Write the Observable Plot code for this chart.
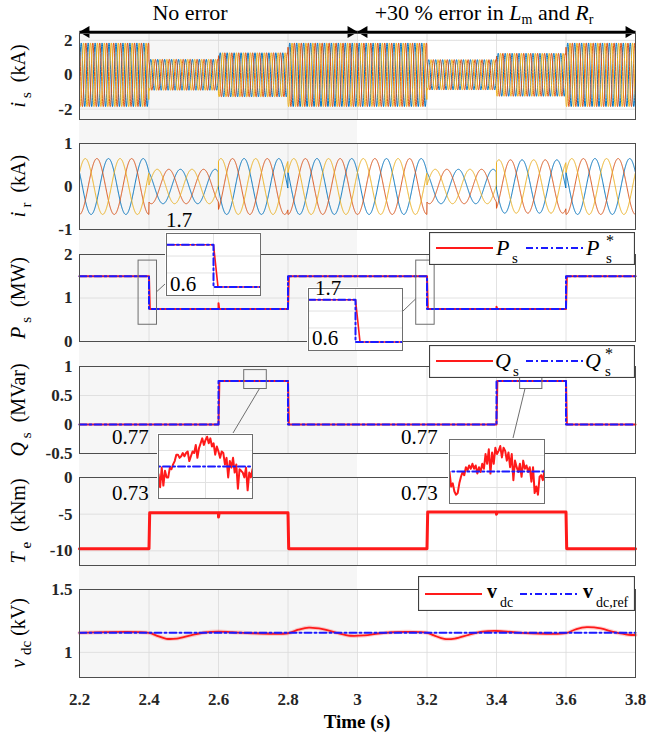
<!DOCTYPE html>
<html>
<head>
<meta charset="utf-8">
<script src="https://cdn.jsdelivr.net/npm/d3@7"></script>
<script src="https://cdn.jsdelivr.net/npm/@observablehq/plot@0.6"></script>
<style>
  body { margin: 0; background: #fff; font-family: "Liberation Serif", "Times New Roman", Times, serif; }
  #fig { position: relative; width: 647px; height: 739px; overflow: hidden;
         font-family: "Liberation Serif", "Times New Roman", Times, serif; color: #000; }
  #fig > * { position: absolute; }
  #fig svg text { font-family: "Liberation Serif", "Times New Roman", Times, serif; }
  .band { background: #f6f6f6; }
  .ylab { transform: translate(-50%, -50%) rotate(-90deg); white-space: nowrap; font-size: 20px;
          font-family: "Liberation Serif", "Times New Roman", Times, serif; }
  .ylab sub { font-size: 15px; vertical-align: -6px; margin-left: 4px; }
  .htext { transform: translate(-50%, 0); white-space: nowrap; font-size: 22px;
           font-family: "Liberation Serif", "Times New Roman", Times, serif; }
  .htext sub { font-size: 14px; vertical-align: -4px; }
  .xlab { transform: translate(-50%, -50%); font-weight: bold; font-size: 19px; white-space: nowrap;
          font-family: "Liberation Serif", "Times New Roman", Times, serif; }
  .num { font-size: 21px; white-space: nowrap; font-family: "Liberation Serif", "Times New Roman", Times, serif; }
</style>
</head>
<body>
<div id="fig"></div>
<script>
// ---------- data ----------
const timeDomain = [2.2, 3.8];
const timeTicks = [2.2, 2.4, 2.6, 2.8, 3, 3.2, 3.4, 3.6, 3.8];
const noErrorSpan = [2.2, 3.0];
const errorSpan = [3.0, 3.8];

// operating segments (s)
const segStart = [2.2, 2.4, 2.6, 2.8, 3.2, 3.4, 3.6];
const segEnd   = [2.4, 2.6, 2.8, 3.2, 3.4, 3.6, 3.8];

// stator active / reactive power references (MW, MVar)
const psLevel = [1.5, 0.75, 0.75, 1.5, 0.75, 0.75, 1.5];
const qsLevel = [0, 0, 0.75, 0, 0, 0.75, 0];
// electromagnetic torque (kNm)
const teLevel = [-9.7, -4.8, -4.8, -9.7, -4.7, -4.7, -9.7];
// current envelopes (kA) and phase shifts (deg) per segment
const isAmp = [1.85, 0.9, 1.28, 1.85, 0.88, 1.25, 1.85];
const irAmp = [0.65, 0.4, 0.65, 0.65, 0.4, 0.62, 0.65];
const irShift = [0, -25, 35, 0, -25, 35, 0];
const statorHz = 50, rotorHz = 10, irPhase0 = 150, isPhase0 = 0;

// short transients on the measured signals
const psSpikes = [{t: 2.6, v: 0.88}, {t: 3.4, v: 0.8}];
const teSpikes = [{t: 2.6, v: -5.4}, {t: 3.4, v: -5.0}];

// dc-link voltage (kV)
const vdcRef = 1.155;
const vdcT = [2.2, 2.4, 2.42, 2.45, 2.48, 2.52, 2.56, 2.6, 2.64, 2.7, 2.8, 2.83, 2.86, 2.9, 2.94, 2.98, 3.02, 3.06, 3.1, 3.15, 3.2, 3.22, 3.25, 3.28, 3.32, 3.36, 3.4, 3.45, 3.5, 3.6, 3.63, 3.66, 3.7, 3.74, 3.78, 3.8];
const vdcV = [1.155, 1.155, 1.135, 1.108, 1.11, 1.135, 1.158, 1.165, 1.16, 1.152, 1.152, 1.18, 1.197, 1.185, 1.155, 1.132, 1.135, 1.15, 1.16, 1.163, 1.156, 1.135, 1.107, 1.11, 1.14, 1.165, 1.17, 1.16, 1.152, 1.153, 1.185, 1.2, 1.19, 1.16, 1.14, 1.138];

// zoom windows
const psZoomY = [0.6, 1.7];            // inset range (MW)
const psZoomX = [[2.374, 2.426], [3.174, 3.226]];
const psBoxX = [[2.37, 2.423], [3.169, 3.222]];
const psBoxY = [0.385, 1.86];
const qsZoomY = [0.73, 0.77];          // inset range (MVar)
const qsZoomX = [[2.674, 2.739], [3.468, 3.532]];
const qsBoxY = [0.612, 0.938];
// sampled Q_s inside the two zoom windows
const qsZoom1 = [.7452, .7371, .7493, .7381, .7473, .7432, .7432, .7493, .7483, .7513, .7534, .7574, .7574, .7554, .7564, .7584, .7564, .7584, .7594, .7534, .7564, .7594, .7584, .7635, .7554, .7615, .7645, .7676, .7635, .7665, .7686, .7645, .7676, .7625, .7645, .7574, .7625, .7594, .7554, .7594, .7584, .7513, .7554, .7432, .7534, .7493, .7554, .7462, .7513, .7361, .7483, .7473, .7462, .7432, .7493, .7351, .7462, .7432, .7483];
const qsZoom2 = [.7497, .7406, .7426, .7375, .7355, .7365, .7426, .7467, .7497, .7477, .7527, .7507, .7538, .7517, .7548, .7517, .7538, .7487, .7527, .7497, .7548, .7517, .7609, .7548, .7639, .7487, .7619, .7548, .7649, .7609, .7629, .7659, .7588, .7649, .7629, .7568, .7619, .7527, .7609, .7446, .7568, .7527, .7497, .7548, .7467, .7568, .7517, .7538, .7497, .7527, .7436, .7527, .7365, .7406, .7355, .7467, .7477, .7446, .7507];

const phaseColors = ["#0072BD", "#D95319", "#EDB120"];
const red = "#ff1a1a", blue = "#1a1aff", dashDot = "7,3,2,3";
const serif = "'Liberation Serif', 'Times New Roman', Times, serif";

// ---------- layout ----------
const W = 647, L = 79, R = 635;
const panels = {
  is: {top: 33, h: 86, yDomain: [-2.6, 2.4], yTicks: [-2, 0, 2]},
  ir: {top: 143, h: 86, yDomain: [-1, 1], yTicks: [-1, 0, 1]},
  ps: {top: 254, h: 87, yDomain: [0, 2], yTicks: [0, 1, 2]},
  qs: {top: 366, h: 87, yDomain: [-0.5, 1], yTicks: [-0.5, 0, 0.5, 1]},
  te: {top: 477, h: 88, yDomain: [-12, 0], yTicks: [-10, -5, 0]},
  vdc: {top: 589, h: 88, yDomain: [0.8, 1.5], yTicks: [1, 1.5]}
};
const fig = document.getElementById("fig");
const xPix = t => L + (t - timeDomain[0]) / (timeDomain[1] - timeDomain[0]) * (R - L);
const yPix = (p, v) => p.top + (p.yDomain[1] - v) / (p.yDomain[1] - p.yDomain[0]) * p.h;

// ---------- series ----------
function segIndex(t) { let k = segStart.length - 1; while (k > 0 && t < segStart[k] - 1e-9) k--; return k; }
function threePhase(hz, amp, shift, phase0) {
  const rows = [], dt = 0.0005, n = Math.round((timeDomain[1] - timeDomain[0]) / dt);
  for (let i = 0; i <= n; i++) {
    const t = timeDomain[0] + i * dt, k = segIndex(t);
    for (let p = 0; p < 3; p++) {
      const th = (phase0 + shift[k] + p * 120) * Math.PI / 180 + 2 * Math.PI * hz * (t - timeDomain[0]);
      rows.push({t, v: amp[k] * Math.sin(th), p});
    }
  }
  return rows;
}
function stepSeries(levels, ramp, spikes = []) {
  const pts = [];
  levels.forEach((v, k) => {
    pts.push({t: segStart[k] + (k && levels[k - 1] !== v ? ramp : 0), v});
    pts.push({t: segEnd[k], v});
  });
  spikes.forEach(s => {
    const base = levels[segIndex(s.t)];
    pts.push({t: s.t - 0.001, v: base}, {t: s.t, v: s.v}, {t: s.t + 0.002, v: base});
  });
  return pts.sort((a, b) => a.t - b.t);
}
const isRows = threePhase(statorHz, isAmp, isAmp.map(() => 0), isPhase0);
const irRows = threePhase(rotorHz, irAmp, irShift, irPhase0);
const psMeas = stepSeries(psLevel, 0.0025, psSpikes);
const psRef = stepSeries(psLevel, 0);
const qsMeas = stepSeries(qsLevel, 0.0025);
const qsRef = stepSeries(qsLevel, 0);
const teMeas = stepSeries(teLevel, 0.002, teSpikes);
const vdcRows = vdcT.map((t, i) => ({t, v: vdcV[i]}));
const vdcRefRows = timeDomain.map(t => ({t, v: vdcRef}));
const zoomRows = (vals, [a, b]) => vals.map((v, i) => ({t: a + i * (b - a) / (vals.length - 1), v}));

const phaseLines = rows => [0, 1, 2].map(p =>
  Plot.line(rows.filter(d => d.p === p), {x: "t", y: "v", stroke: phaseColors[p], strokeWidth: 1}));

// ---------- drawing helpers ----------
const band = document.createElement("div");
band.className = "band";
band.style.left = xPix(noErrorSpan[0]) + "px";
band.style.width = (xPix(noErrorSpan[1]) - xPix(noErrorSpan[0])) + "px";
band.style.top = panels.is.top + "px";
band.style.height = (panels.vdc.top + panels.vdc.h - panels.is.top) + "px";
fig.append(band);

function addPanel(p, marks, bottom = false) {
  const mt = 2, mb = bottom ? 62 : 2;
  const svg = Plot.plot({
    width: W, height: p.h + mt + mb,
    marginLeft: L, marginRight: W - R, marginTop: mt, marginBottom: mb,
    style: {background: "transparent", fontFamily: serif, fontSize: "17px",
            fontWeight: "bold", color: "#262626", overflow: "visible"},
    x: bottom
      ? {domain: timeDomain, label: null, ticks: timeTicks, tickSize: 0, tickPadding: 15, tickFormat: d => String(d)}
      : {domain: timeDomain, label: null, axis: null},
    y: {domain: p.yDomain, label: null, ticks: p.yTicks, tickSize: 0, tickPadding: 7, tickFormat: d => String(d)},
    marks: [
      Plot.ruleX(timeTicks, {stroke: "#dadada", strokeWidth: 0.8}),
      Plot.ruleY(p.yTicks, {stroke: "#dadada", strokeWidth: 0.8}),
      ...marks,
      Plot.frame({stroke: "#4d4d4d", strokeWidth: 1})
    ]
  });
  svg.style.left = "0px";
  svg.style.top = (p.top - mt) + "px";
  fig.append(svg);
  return svg;
}

function addInset(box, xDomain, yDomain, yGrid, marks) {
  const svg = Plot.plot({
    width: box.w, height: box.h, marginLeft: 1, marginRight: 1, marginTop: 1, marginBottom: 1,
    style: {background: "#fff", overflow: "hidden"},
    x: {domain: xDomain, axis: null, label: null},
    y: {domain: yDomain, axis: null, label: null},
    marks: [
      Plot.ruleX([(xDomain[0] + xDomain[1]) / 2], {stroke: "#e2e2e2"}),
      Plot.ruleY(yGrid, {stroke: "#e2e2e2"}),
      ...marks,
      Plot.frame({stroke: "#6e6e6e"})
    ]
  });
  svg.style.left = box.x + "px";
  svg.style.top = box.y + "px";
  fig.append(svg);
}

function addHTML(cls, html, x, y) {
  const d = document.createElement("div");
  d.className = cls; d.innerHTML = html;
  d.style.left = x + "px"; d.style.top = y + "px";
  fig.append(d);
  return d;
}

// ---------- header ----------
const header = Plot.plot({
  width: W, height: 40, marginLeft: L, marginRight: W - R, marginTop: 0, marginBottom: 0,
  style: {background: "transparent", overflow: "visible"},
  x: {domain: timeDomain, axis: null, label: null},
  y: {domain: [0, 40], range: [0, 40], axis: null, label: null},
  marks: [
    Plot.link([noErrorSpan, errorSpan], {x1: d => d[0], x2: d => d[1], y1: 31.5, y2: 31.5, stroke: "#000", strokeWidth: 2.4}),
    Plot.dot([noErrorSpan, errorSpan], {x: d => d[0], y: 31.5, symbol: "triangle", r: 4.4, fill: "#000", stroke: "none", rotate: -90, dx: 6.5}),
    Plot.dot([noErrorSpan, errorSpan], {x: d => d[1], y: 31.5, symbol: "triangle", r: 4.4, fill: "#000", stroke: "none", rotate: 90, dx: -6.5})
  ]
});
header.style.left = "0px"; header.style.top = "0px";
fig.append(header);
addHTML("htext", "No error", 190, 0);
addHTML("htext", "+30 % error in <i>L</i><sub>m</sub> and <i>R</i><sub>r</sub>", 484, 0);

// ---------- panels ----------
addPanel(panels.is, phaseLines(isRows));
addPanel(panels.ir, phaseLines(irRows));

const psRects = psBoxX.map(([x1, x2]) => ({x1, x2, y1: psBoxY[0], y2: psBoxY[1]}));
addPanel(panels.ps, [
  Plot.line(psMeas, {x: "t", y: "v", stroke: red, strokeWidth: 2}),
  Plot.line(psRef, {x: "t", y: "v", stroke: blue, strokeWidth: 2, strokeDasharray: dashDot}),
  Plot.rect(psRects, {x1: "x1", x2: "x2", y1: "y1", y2: "y2", fill: "none", stroke: "#6e6e6e", strokeWidth: 1})
]);

const qsRects = qsZoomX.map(([x1, x2]) => ({x1, x2, y1: qsBoxY[0], y2: qsBoxY[1]}));
addPanel(panels.qs, [
  Plot.line(qsMeas, {x: "t", y: "v", stroke: red, strokeWidth: 2}),
  Plot.line(qsRef, {x: "t", y: "v", stroke: blue, strokeWidth: 2, strokeDasharray: dashDot}),
  Plot.rect(qsRects, {x1: "x1", x2: "x2", y1: "y1", y2: "y2", fill: "none", stroke: "#6e6e6e", strokeWidth: 1})
]);

addPanel(panels.te, [
  Plot.line(teMeas, {x: "t", y: "v", stroke: red, strokeWidth: 3})
]);

addPanel(panels.vdc, [
  Plot.line(vdcRows, {x: "t", y: "v", stroke: red, strokeWidth: 4, strokeOpacity: 0.2, curve: "catmull-rom"}),
  Plot.line(vdcRows, {x: "t", y: "v", stroke: red, strokeWidth: 1.8, curve: "catmull-rom"}),
  Plot.line(vdcRefRows, {x: "t", y: "v", stroke: blue, strokeWidth: 2, strokeDasharray: dashDot})
], true);

// ---------- zoom connectors ----------
const psBoxes = [{x: 165, y: 232, w: 96, h: 64}, {x: 307, y: 287, w: 96, h: 64}];
const qsBoxes = [{x: 157, y: 433, w: 96, h: 66}, {x: 448, y: 438, w: 97, h: 66}];
const links = [
  [xPix(psBoxX[0][1]), yPix(panels.ps, 1.13), psBoxes[0].x, psBoxes[0].y + 52],
  [xPix(psBoxX[1][0]), yPix(panels.ps, 0.97), psBoxes[1].x + psBoxes[1].w, psBoxes[1].y + 24],
  [xPix(2.7195), yPix(panels.qs, qsBoxY[0]), qsBoxes[0].x + 76, qsBoxes[0].y],
  [xPix(3.4835), yPix(panels.qs, qsBoxY[0]), qsBoxes[1].x + 65, qsBoxes[1].y]
];
const overlay = d3.create("svg").attr("width", W).attr("height", 739)
  .style("left", "0px").style("top", "0px").style("pointer-events", "none");
overlay.selectAll("line").data(links).join("line")
  .attr("x1", d => d[0]).attr("y1", d => d[1]).attr("x2", d => d[2]).attr("y2", d => d[3])
  .attr("stroke", "#6e6e6e").attr("stroke-width", 1);
fig.append(overlay.node());

// ---------- insets ----------
psZoomX.forEach((xd, i) => addInset(psBoxes[i], xd, psZoomY, [1.0, 1.3], [
  Plot.line(psMeas, {x: "t", y: "v", stroke: red, strokeWidth: 1.6, clip: true}),
  Plot.line(psRef, {x: "t", y: "v", stroke: blue, strokeWidth: 2, strokeDasharray: dashDot, clip: true})
]));
[qsZoom1, qsZoom2].forEach((vals, i) => addInset(qsBoxes[i], qsZoomX[i], qsZoomY, [0.74, 0.76], [
  Plot.line(zoomRows(vals, qsZoomX[i]), {x: "t", y: "v", stroke: red, strokeWidth: 2, clip: true}),
  Plot.line(qsRef, {x: "t", y: "v", stroke: blue, strokeWidth: 2, strokeDasharray: dashDot, clip: true})
]));

// inset range labels
addHTML("num", String(psZoomY[1]), 166, 208);
addHTML("num", String(psZoomY[0]), 170, 272);
addHTML("num", String(psZoomY[1]), 315, 276);
addHTML("num", String(psZoomY[0]), 312, 326);
addHTML("num", String(qsZoomY[1]), 112, 425);
addHTML("num", String(qsZoomY[0]), 112, 481);
addHTML("num", String(qsZoomY[1]), 401, 425);
addHTML("num", String(qsZoomY[0]), 401, 481);

// ---------- legends ----------
function legendSVG(x, y, w, h, parts) {
  const s = d3.create("svg").attr("width", w).attr("height", h).style("left", x + "px").style("top", y + "px");
  s.append("rect").attr("x", 0.5).attr("y", 0.5).attr("width", w - 1).attr("height", h - 1)
    .attr("fill", "#fff").attr("stroke", "#404040").attr("stroke-width", 1.2);
  s.append("line").attr("x1", 7).attr("x2", 64).attr("y1", parts.ly).attr("y2", parts.ly).attr("stroke", red).attr("stroke-width", 2);
  s.append("line").attr("x1", parts.bx).attr("x2", parts.bx + 57).attr("y1", parts.ly).attr("y2", parts.ly)
    .attr("stroke", blue).attr("stroke-width", 2).attr("stroke-dasharray", dashDot);
  const t = s.append("g").attr("font-family", serif).attr("fill", "#000");
  parts.texts.forEach(([str, tx, ty, size, style, weight]) =>
    t.append("text").attr("x", tx).attr("y", ty).attr("font-size", size)
      .attr("font-style", style || "normal").attr("font-weight", weight || "normal").text(str));
  fig.append(s.node());
}
legendSVG(R - 206, 232, 206, 33, {ly: 16, bx: 97, texts: [
  ["P", 67, 23, 22, "italic"], ["s", 83, 31, 15],
  ["P", 157, 23, 22, "italic"], ["*", 177, 14, 16], ["s", 177, 31, 15]]});
legendSVG(R - 206, 345, 206, 33, {ly: 16, bx: 97, texts: [
  ["Q", 66, 23, 22, "italic"], ["s", 84, 31, 15],
  ["Q", 156, 23, 22, "italic"], ["*", 176, 14, 16], ["s", 176, 31, 15]]});
legendSVG(R - 217, 576, 217, 35, {ly: 18, bx: 102, texts: [
  ["v", 69, 22, 20, "normal", "bold"], ["dc", 82, 31, 14],
  ["v", 165, 22, 20, "normal", "bold"], ["dc,ref", 178, 31, 14]]});

// ---------- axis titles ----------
const ylabs = [
  [panels.is, "<i>i</i><sub>s</sub>&nbsp;&nbsp;(kA)"],
  [panels.ir, "<i>i</i><sub>r</sub>&nbsp;&nbsp;(kA)"],
  [panels.ps, "<i>P</i><sub>s</sub>&nbsp;&nbsp;(MW)"],
  [panels.qs, "<i>Q</i><sub>s</sub>&nbsp;&nbsp;(MVar)"],
  [panels.te, "<i>T</i><sub>e</sub>&nbsp;&nbsp;(kNm)"],
  [panels.vdc, "<i>v</i><sub>dc</sub>&nbsp;(kV)"]
];
ylabs.forEach(([p, html]) => addHTML("ylab", html, 21, p.top + p.h / 2));
addHTML("xlab", "Time (s)", (L + R) / 2, 722);
</script>
</body>
</html>
